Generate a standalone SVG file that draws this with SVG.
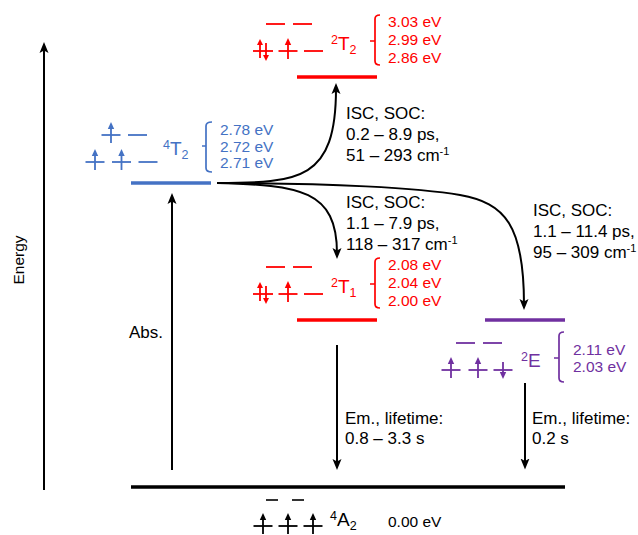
<svg xmlns="http://www.w3.org/2000/svg" width="638" height="535" viewBox="0 0 638 535">
<style>
text{font-family:"Liberation Sans",Arial,Helvetica,sans-serif}
.lbl{font-size:17px;fill:#000}
.ev{font-size:15.5px}
.st{font-size:19px}
.sm{font-size:12.5px}
.tk{fill:#000}
.tr{fill:#ff0000}
.tb{fill:#4472c4}
.tp{fill:#7030a0}
.arr{stroke:#000;stroke-width:2;fill:none}
.r{stroke:#ff0000;fill:#ff0000}
.b{stroke:#4472c4;fill:#4472c4}
.p{stroke:#7030a0;fill:#7030a0}
.k{stroke:#000;fill:#000}
.lvl{stroke-width:3.5}
.brk{fill:none;stroke-width:1.7}
</style>
<defs>
<marker id="ah" markerUnits="userSpaceOnUse" markerWidth="11" markerHeight="10" viewBox="0 0 11 10" refX="5.5" refY="5" orient="auto">
<path d="M0,0.5 L11,5 L0,9.5 L2.5,5 Z" fill="#000"/>
</marker>
<g id="up" stroke-width="1.8"><line x1="-9.5" y1="0" x2="9.5" y2="0"/><line x1="0" y1="-7" x2="0" y2="8"/><path d="M0,-13 L-3.2,-6 L3.2,-6 Z" stroke="none"/></g>
<g id="dn" stroke-width="1.8"><line x1="-9.5" y1="0" x2="9.5" y2="0"/><line x1="0" y1="-8" x2="0" y2="3"/><path d="M0,9 L-3.2,2 L3.2,2 Z" stroke="none"/></g>
<g id="pair" stroke-width="1.8"><line x1="-10" y1="0" x2="10" y2="0"/><line x1="-3" y1="-7" x2="-3" y2="7"/><path d="M-3,-12 L-6,-6 L0,-6 Z" stroke="none"/><line x1="3" y1="-8" x2="3" y2="4"/><path d="M3,10 L0,4 L6,4 Z" stroke="none"/></g>
<g id="dash" stroke-width="1.8"><line x1="-9.5" y1="0" x2="9.5" y2="0"/></g>
</defs>

<g id="level-4A2">
<line x1="131" y1="487" x2="565" y2="487" class="k lvl"/>
<line x1="266" y1="500" x2="278" y2="500" stroke="#000" stroke-width="1.6"/>
<line x1="292" y1="500" x2="304" y2="500" stroke="#000" stroke-width="1.6"/>
<use href="#up" x="263" y="526" class="k"/>
<use href="#up" x="288" y="526" class="k"/>
<use href="#up" x="313" y="526" class="k"/>
<text y="526" class="tk"><tspan x="330" dy="-6" class="sm">4</tspan><tspan dy="6" class="st">A</tspan><tspan dy="4" class="sm">2</tspan></text>
<text x="388" y="527" class="ev tk">0.00 eV</text>
</g>

<g id="level-4T2">
<line x1="131" y1="183" x2="211" y2="183" class="b lvl"/>
<use href="#up" x="111" y="135" class="b"/>
<use href="#dash" x="137.5" y="135" class="b"/>
<use href="#up" x="95" y="162" class="b"/>
<use href="#up" x="121.5" y="162" class="b"/>
<use href="#dash" x="148" y="162" class="b"/>
<text y="155" class="tb"><tspan x="163" dy="-6" class="sm">4</tspan><tspan dy="6" class="st">T</tspan><tspan dy="4" class="sm">2</tspan></text>
<path d="M212,122 Q206,122 206,126 L206,168 Q206,172 212,172 M206,146 L202,146" class="b brk"/>
<text x="220" y="135" class="ev tb">2.78 eV</text>
<text x="220" y="151.5" class="ev tb">2.72 eV</text>
<text x="220" y="168" class="ev tb">2.71 eV</text>
</g>

<g id="level-2T2">
<line x1="297" y1="77" x2="377" y2="77" class="r lvl"/>
<use href="#dash" x="275.5" y="24" class="r"/>
<use href="#dash" x="302.5" y="24" class="r"/>
<use href="#pair" x="263" y="51" class="r"/>
<use href="#up" x="288" y="51" class="r"/>
<use href="#dash" x="313.5" y="51" class="r"/>
<text y="50" class="tr"><tspan x="331" dy="-6" class="sm">2</tspan><tspan dy="6" class="st">T</tspan><tspan dy="4" class="sm">2</tspan></text>
<path d="M380,15 Q375,15 375,19 L375,61 Q375,65 380,65 M375,41 L370,41" class="r brk"/>
<text x="388" y="27" class="ev tr">3.03 eV</text>
<text x="388" y="45" class="ev tr">2.99 eV</text>
<text x="388" y="63" class="ev tr">2.86 eV</text>
</g>

<g id="level-2T1">
<line x1="297" y1="320" x2="377" y2="320" class="r lvl"/>
<use href="#dash" x="275.5" y="267" class="r"/>
<use href="#dash" x="302.5" y="267" class="r"/>
<use href="#pair" x="263" y="294" class="r"/>
<use href="#up" x="288" y="294" class="r"/>
<use href="#dash" x="313.5" y="294" class="r"/>
<text y="293" class="tr"><tspan x="331" dy="-6" class="sm">2</tspan><tspan dy="6" class="st">T</tspan><tspan dy="4" class="sm">1</tspan></text>
<path d="M380,258 Q375,258 375,262 L375,304 Q375,308 380,308 M375,284 L370,284" class="r brk"/>
<text x="388" y="270" class="ev tr">2.08 eV</text>
<text x="388" y="288" class="ev tr">2.04 eV</text>
<text x="388" y="306" class="ev tr">2.00 eV</text>
</g>

<g id="level-2E">
<line x1="485" y1="320" x2="565" y2="320" class="p lvl"/>
<use href="#dash" x="465.5" y="343" class="p"/>
<use href="#dash" x="492.5" y="343" class="p"/>
<use href="#up" x="451" y="370" class="p"/>
<use href="#up" x="478" y="370" class="p"/>
<use href="#dn" x="503" y="370" class="p"/>
<text y="367" class="tp"><tspan x="521" dy="-6" class="sm">2</tspan><tspan dy="6" class="st">E</tspan></text>
<path d="M564,332 Q559,332 559,336 L559,378 Q559,382 564,382 M559,358 L554,358" class="p brk"/>
<text x="573" y="355" class="ev tp">2.11 eV</text>
<text x="573" y="372" class="ev tp">2.03 eV</text>
</g>

<g id="connectors">
<line x1="44" y1="490" x2="44" y2="47.5" class="arr" marker-end="url(#ah)"/>
<text transform="translate(24,260) rotate(-90)" text-anchor="middle" class="lbl" style="font-size:15.5px">Energy</text>
<line x1="172" y1="470" x2="172" y2="198.5" class="arr" marker-end="url(#ah)"/>
<text x="163" y="338" text-anchor="end" class="lbl">Abs.</text>
<line x1="337" y1="345" x2="337" y2="464.5" class="arr" marker-end="url(#ah)"/>
<line x1="525" y1="383" x2="525" y2="464" class="arr" marker-end="url(#ah)"/>
<path d="M217,183 C300,183 336,180 336,88.5" class="arr" marker-end="url(#ah)"/>
<path d="M217,183 C300,185 337,190 337,253.5" class="arr" marker-end="url(#ah)"/>
<path d="M217,183 C330,183 420,188 460,195 C505,203 524,225 524,304.5" class="arr" marker-end="url(#ah)"/>
<text class="lbl"><tspan x="346" y="119">ISC, SOC:</tspan><tspan x="346" y="140">0.2 – 8.9 ps,</tspan><tspan x="346" y="160.5">51 – 293 cm<tspan dy="-6" style="font-size:11px">-1</tspan></tspan></text>
<text class="lbl"><tspan x="346" y="208">ISC, SOC:</tspan><tspan x="346" y="229">1.1 – 7.9 ps,</tspan><tspan x="346" y="250">118 – 317 cm<tspan dy="-6" style="font-size:11px">-1</tspan></tspan></text>
<text class="lbl"><tspan x="533" y="216">ISC, SOC:</tspan><tspan x="533" y="237">1.1 – 11.4 ps,</tspan><tspan x="533" y="258">95 – 309 cm<tspan dy="-6" style="font-size:11px">-1</tspan></tspan></text>
<text class="lbl"><tspan x="345" y="424">Em., lifetime:</tspan><tspan x="345" y="444">0.8 – 3.3 s</tspan></text>
<text class="lbl"><tspan x="532" y="424">Em., lifetime:</tspan><tspan x="532" y="444">0.2 s</tspan></text>
</g>
</svg>
